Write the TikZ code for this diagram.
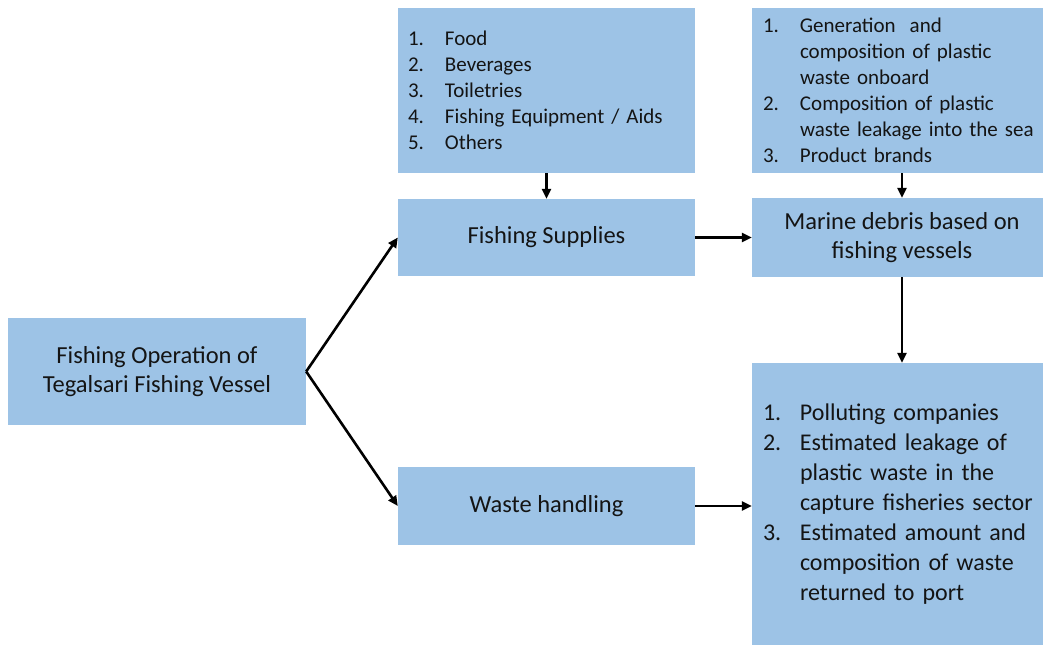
\documentclass[tikz,border=0pt]{standalone}
\usepackage{fontspec}
\setmainfont{Carlito}
\usetikzlibrary{arrows.meta}
\definecolor{boxblue}{HTML}{9DC3E6}
\tikzset{
	boxstyle/.style={rectangle,fill=boxblue,text=black!92,inner sep=0pt,align=center,font={\fontsize{24.5}{29}\selectfont}},
	liststyle/.style={boxstyle,align=left,inner xsep=10pt,font={\fontsize{21}{26}\selectfont}},
	arrowstyle/.style={-{Triangle[length=10pt,width=9pt]},line width=2.6pt}
}
\newcommand{\itm}[1]{\makebox[37pt][l]{#1}}
\newcommand{\cnt}{\hspace*{37pt}}

\begin{document}
\begin{tikzpicture}[x=1pt,y=-1pt]
	\useasboundingbox (0,0) rectangle (1043,647);
	% boxes
	\node[boxstyle,minimum width=298pt,minimum height=107pt] (operation) at (157,371.5) {Fishing Operation of\\Tegalsari Fishing Vessel};
	\node[liststyle,minimum width=297pt,minimum height=165pt,text width=277pt] (supplyitems) at (546.5,90.5)
		{\itm{1.}Food\\\itm{2.}Beverages\\\itm{3.}Toiletries\\\itm{4.}Fishing Equipment / Aids\\\itm{5.}Others};
	\node[boxstyle,minimum width=297pt,minimum height=77pt] (supplies) at (546.5,237.5) {Fishing Supplies};
	\node[boxstyle,minimum width=297pt,minimum height=78pt] (handling) at (546.5,506) {Waste handling};
	\node[liststyle,minimum width=300pt,minimum height=165pt,inner xsep=11pt,text width=278pt] (debrisitems) at (902,90.5)
		{\itm{1.}Generation\ \ and\\\cnt composition of plastic\\\cnt waste onboard\\\itm{2.}Composition of plastic\\\cnt waste leakage into the sea\\\itm{3.}Product brands};
	\node[boxstyle,minimum width=300pt,minimum height=79pt] (debris) at (902,237.5) {Marine debris based on\\fishing vessels};
	\node[liststyle,minimum width=300pt,minimum height=282pt,inner xsep=11pt,text width=278pt,font={\fontsize{24}{30}\selectfont}] (results) at (902,504)
		{\itm{1.}Polluting companies\\\itm{2.}Estimated leakage of\\\cnt plastic waste in the\\\cnt capture fisheries sector\\\itm{3.}Estimated amount and\\\cnt composition of waste\\\cnt returned to port};
	% arrows
	\draw[arrowstyle] (operation.east) -- (supplies.west);
	\draw[arrowstyle] (operation.east) -- (handling.west);
	\draw[arrowstyle] (supplyitems.south) -- (supplies.north);
	\draw[arrowstyle] (debrisitems.south) -- (debris.north);
	\draw[arrowstyle] (supplies.east) -- (debris.west);
	\draw[arrowstyle] (debris.south) -- (results.north);
	\draw[arrowstyle] (handling.east) -- (handling.east -| results.west);
\end{tikzpicture}
\end{document}
